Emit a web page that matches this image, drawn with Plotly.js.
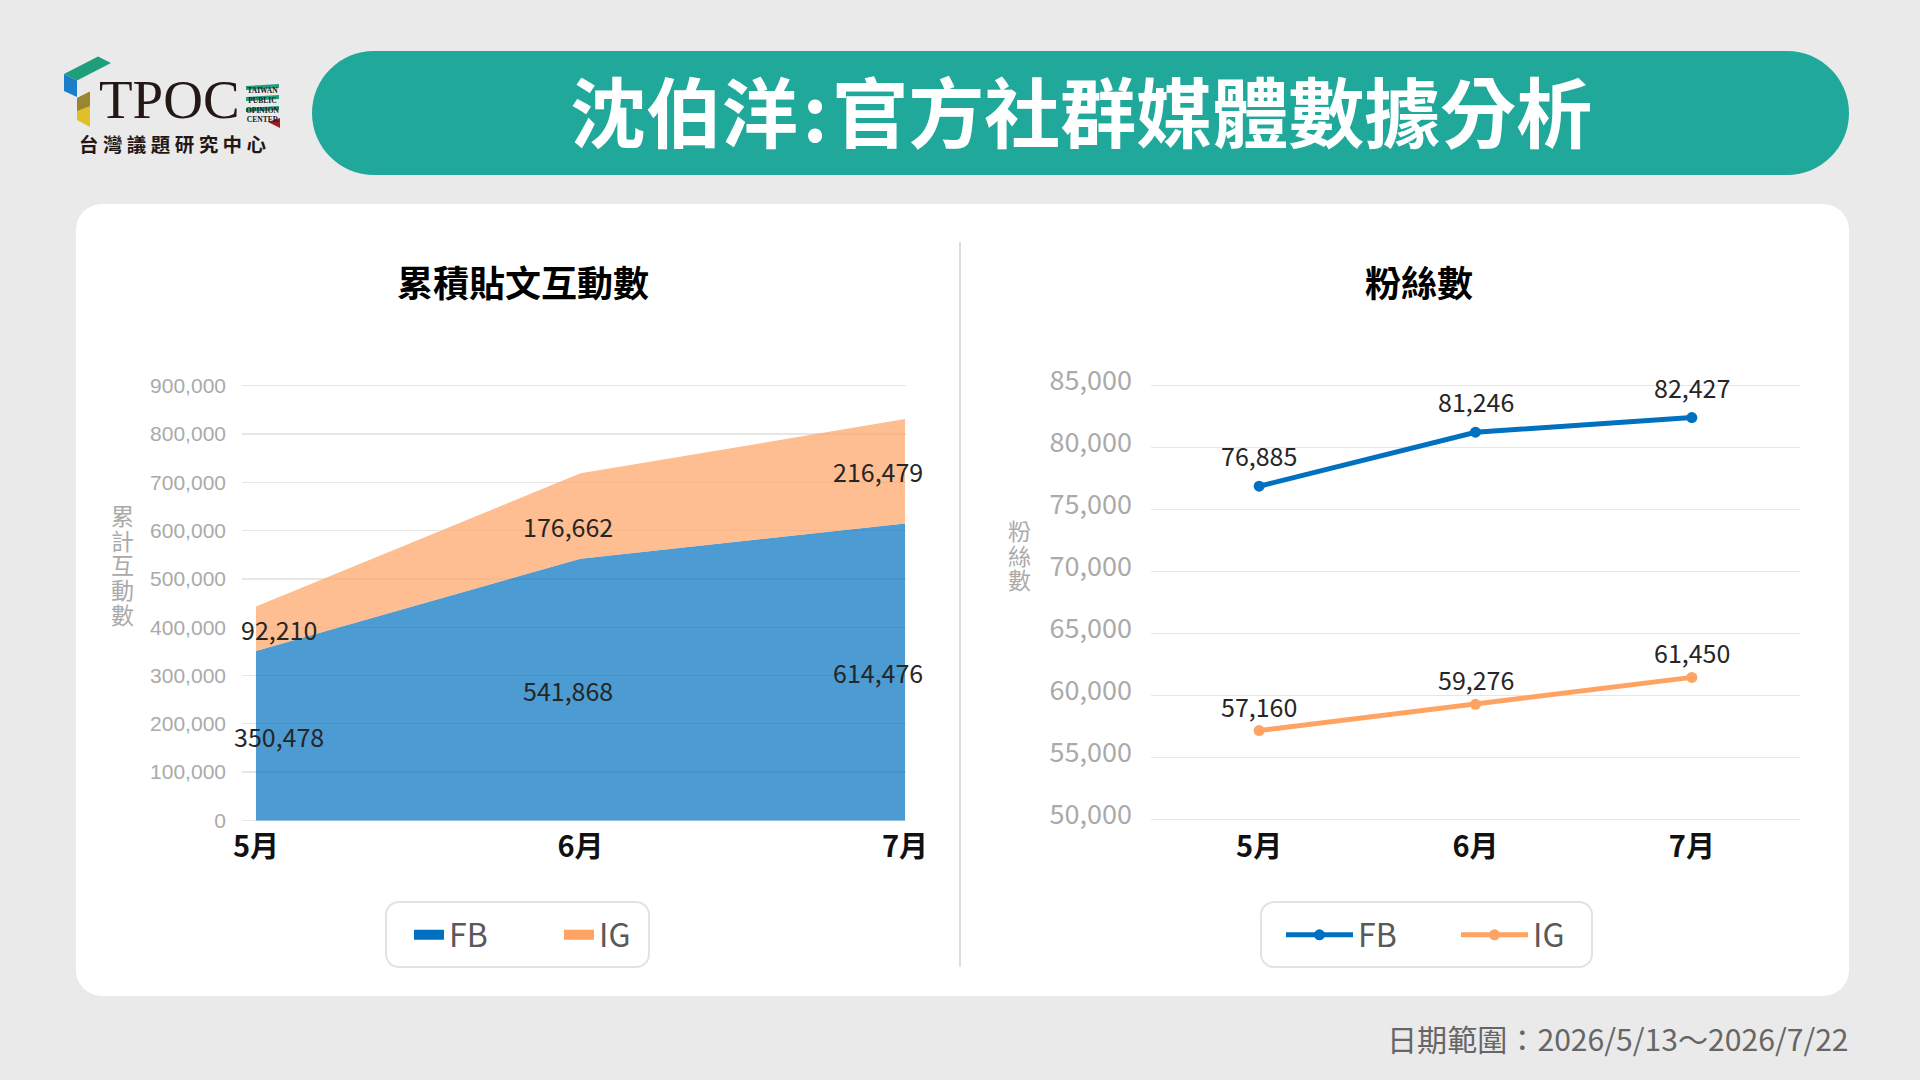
<!DOCTYPE html>
<html><head><meta charset="utf-8">
<script src="https://cdn.plot.ly/plotly-3.0.1.min.js"></script>
<style>html,body{margin:0;padding:0;background:#eaeaea;overflow:hidden}#chart{width:1920px;height:1080px}</style>
</head><body><div id="chart"></div>
<script>
// ---------- data ----------
const months = ['5月', '6月', '7月'];
const interactFB = [350478, 541868, 614476];
const interactIG = [92210, 176662, 216479];
const fansFB = [76885, 81246, 82427];
const fansIG = [57160, 59276, 61450];
const interactTicks = [0, 100000, 200000, 300000, 400000, 500000, 600000, 700000, 800000, 900000];
const fansTicks = [50000, 55000, 60000, 65000, 70000, 75000, 80000, 85000];
const seriesNames = ['FB', 'IG'];

// ---------- styles ----------
const W = 1920, H = 1080;
const CJK = '"Noto Sans CJK TC","Noto Sans CJK SC",sans-serif';
const blue = '#0070c0', orange = '#ffa362';
const blueFill = 'rgba(0,112,192,0.70)', orangeFill = 'rgba(255,163,98,0.70)';
const labelShiftX = [23, -12, -27];
const igLabelShiftY = [0, -10, 0];
const fmt = v => v.toLocaleString('en-US');

function rr(x0, y0, x1, y1, r) {
  const k = 0.4477 * r;
  return `M${x0 + r},${y0} H${x1 - r} C${x1 - k},${y0} ${x1},${y0 + k} ${x1},${y0 + r} ` +
    `V${y1 - r} C${x1},${y1 - k} ${x1 - k},${y1} ${x1 - r},${y1} H${x0 + r} ` +
    `C${x0 + k},${y1} ${x0},${y1 - k} ${x0},${y1 - r} V${y0 + r} C${x0},${y0 + k} ${x0 + k},${y0} ${x0 + r},${y0} Z`;
}
const pshape = (path, fill, line) => ({type: 'path', xref: 'x', yref: 'y', layer: 'below', path,
  fillcolor: fill, line: line || {width: 0}});

const shapes = [
  pshape(rr(312, 51, 1849, 175, 62), '#20a89b'),
  pshape(rr(76, 204, 1849, 996, 26), '#ffffff'),
  {type: 'line', xref: 'x', yref: 'y', layer: 'below', x0: 960, x1: 960, y0: 242, y1: 967, line: {color: '#dedede', width: 2}},
  pshape(rr(386, 902, 649, 967, 13), '#ffffff', {color: '#e3e3e3', width: 2}),
  pshape(rr(1261, 902, 1592, 967, 13), '#ffffff', {color: '#e3e3e3', width: 2}),
  // logo
  pshape('M64,74 L98,56.5 L111,63 L77,80.5 Z', '#1f9e7c'),
  pshape('M64,74 L77,80.5 L77,97 L64,91 Z', '#1a7fc8'),
  pshape('M77,98 L90,91.5 L90,127 L77,120 Z', '#e0bf2a'),
  pshape('M77,98 L90,91.5 L90,106 L77,111 Z', '#9a8530'),
  pshape('M246,86 L279,84 L279,88 L246,90 Z', '#1f9e7c'),
  pshape('M246,97 L279,95 L279,99 L246,101 Z', '#1f9e7c'),
  pshape('M246,108 L279,106 L279,110 L246,112 Z', '#1f9e7c'),
  pshape('M268,122 L280,118 L280,128 Z', '#a01c24'),
];

const annotations = [];
const A = o => annotations.push(Object.assign({showarrow: false, xref: 'x', yref: 'y'}, o));
// header
A({x: 1081, y: 109, text: '沈伯洋\u200a:\u200a官方社群媒體數據分析', font: {family: CJK, size: 76, weight: 700, color: '#ffffff'}});
// logo text
A({x: 169, y: 99, text: 'TPOC', font: {family: '"Liberation Serif","DejaVu Serif",serif', size: 55, color: '#231815'}});
A({x: 262.5, y: 105, text: '<b>TAIWAN<br>PUBLIC<br>OPINION<br>CENTER</b>', font: {family: '"Liberation Serif",serif', size: 7.5, color: '#231815'}});
A({x: 172, y: 143, text: '台 灣 議 題 研 究 中 心', font: {family: CJK, size: 19.5, weight: 700, color: '#231815'}});
// chart titles
A({x: 523, y: 281, text: '累積貼文互動數', font: {family: CJK, size: 36, weight: 700, color: '#000000'}});
A({x: 1419, y: 281, text: '粉絲數', font: {family: CJK, size: 36, weight: 700, color: '#000000'}});
// vertical axis titles (stacked characters)
const vStack = s => [...s].map(c => `<span style="font-size:23px">${c}</span>`).join('<br>');
A({x: 122, y: 564, text: vStack('累計互動數'), font: {family: CJK, size: 19, color: '#aaaaaa'}});
A({x: 1019, y: 554, text: vStack('粉絲數'), font: {family: CJK, size: 19, color: '#aaaaaa'}});
// footer
A({x: 1851, y: 1038, xanchor: 'right', text: '日期範圍：2026/5/13～2026/7/22', font: {family: CJK, size: 30.1, color: '#666666'}});

// data labels
const lblFont = {family: CJK, size: 25, color: '#262626'};
months.forEach((m, i) => {
  annotations.push({xref: 'x2', yref: 'y2', x: m, y: interactFB[i] / 2, text: fmt(interactFB[i]),
    showarrow: false, xshift: labelShiftX[i], font: lblFont});
  annotations.push({xref: 'x2', yref: 'y2', x: m, y: interactFB[i] + interactIG[i] / 2, text: fmt(interactIG[i]),
    showarrow: false, xshift: labelShiftX[i], yshift: igLabelShiftY[i], font: lblFont});
  annotations.push({xref: 'x3', yref: 'y3', x: m, y: fansFB[i], text: fmt(fansFB[i]),
    showarrow: false, yshift: 31, font: lblFont});
  annotations.push({xref: 'x3', yref: 'y3', x: m, y: fansIG[i], text: fmt(fansIG[i]),
    showarrow: false, yshift: 25, font: lblFont});
});

const traces = [
  {x: [null], y: [null], xaxis: 'x', yaxis: 'y', showlegend: false, hoverinfo: 'skip', mode: 'markers'},
  {x: months, y: interactFB, name: seriesNames[0], xaxis: 'x2', yaxis: 'y2', stackgroup: 'one', mode: 'none',
    fillcolor: blueFill, showlegend: false, legendgroup: 'fb'},
  {x: months, y: interactIG, name: seriesNames[1], xaxis: 'x2', yaxis: 'y2', stackgroup: 'one', mode: 'none',
    fillcolor: orangeFill, showlegend: false, legendgroup: 'ig'},
  {x: [null], y: [null], name: seriesNames[0], xaxis: 'x2', yaxis: 'y2', mode: 'lines', line: {color: blue, width: 15},
    legend: 'legend', legendgroup: 'fb'},
  {x: [null], y: [null], name: seriesNames[1], xaxis: 'x2', yaxis: 'y2', mode: 'lines', line: {color: orange, width: 15},
    legend: 'legend', legendgroup: 'ig'},
  {x: months, y: fansFB, name: seriesNames[0], xaxis: 'x3', yaxis: 'y3', mode: 'lines+markers',
    line: {color: blue, width: 5}, marker: {color: blue, size: 11}, legend: 'legend2'},
  {x: months, y: fansIG, name: seriesNames[1], xaxis: 'x3', yaxis: 'y3', mode: 'lines+markers',
    line: {color: orange, width: 5}, marker: {color: orange, size: 11}, legend: 'legend2'},
];

// plot areas: left 0 -> 820.4px, 900k -> 385.7px; right 50k -> 819.2px, 85k -> 385.7px (2px padding so edge gridlines show)
const pad = 2;
const lPx = (820.4 - 385.7) / 900000, rPx = (819.2 - 385.7) / 35000;
const layout = {
  width: W, height: H, margin: {l: 0, r: 0, t: 0, b: 0, pad: 0},
  paper_bgcolor: '#eaeaea', plot_bgcolor: 'rgba(0,0,0,0)',
  showlegend: true, hovermode: false,
  xaxis: {domain: [0, 1], range: [0, W], visible: false, fixedrange: true},
  yaxis: {domain: [0, 1], range: [H, 0], visible: false, fixedrange: true},
  xaxis2: {domain: [242 / W, 906 / W], anchor: 'y2', type: 'category', range: [-0.043, 2.003],
    showgrid: false, zeroline: false, showline: false, ticks: '', ticklabelstandoff: 5,
    tickfont: {family: CJK, size: 29, weight: 700, color: '#111111'}},
  yaxis2: {domain: [1 - (820.4 + pad) / H, 1 - (385.7 - pad) / H], anchor: 'x2',
    range: [-pad / lPx, 900000 + pad / lPx], tickvals: interactTicks, tickformat: ',d',
    showgrid: true, gridcolor: '#e6e6e6', gridwidth: 1.3, zeroline: false, showline: false, ticks: '',
    tickfont: {family: '"Liberation Sans",Arial,sans-serif', size: 21, color: '#aaaaaa'}, ticklabelstandoff: 15},
  xaxis3: {domain: [1151 / W, 1800 / W], anchor: 'y3', type: 'category', range: [-0.5, 2.5],
    showgrid: false, zeroline: false, showline: false, ticks: '', ticklabelstandoff: 6,
    tickfont: {family: CJK, size: 29, weight: 700, color: '#111111'}},
  yaxis3: {domain: [1 - (819.2 + pad) / H, 1 - (385.7 - pad) / H], anchor: 'x3',
    range: [50000 - pad / rPx, 85000 + pad / rPx], tickvals: fansTicks, tickformat: ',d',
    showgrid: true, gridcolor: '#e6e6e6', gridwidth: 1.3, zeroline: false, showline: false, ticks: '',
    tickfont: {family: CJK, size: 27, color: '#aaaaaa'}, ticklabelstandoff: 18, ticklabelshift: -5},
  legend: {orientation: 'h', x: 409 / W, y: 1 - 935 / H, xanchor: 'left', yanchor: 'middle',
    bgcolor: 'rgba(0,0,0,0)', borderwidth: 0, itemwidth: 30, entrywidth: 105,
    font: {family: CJK, size: 32, color: '#595959'}, itemclick: false, itemdoubleclick: false},
  legend2: {orientation: 'h', x: 1281 / W, y: 1 - 935 / H, xanchor: 'left', yanchor: 'middle',
    bgcolor: 'rgba(0,0,0,0)', borderwidth: 0, itemwidth: 67, entrywidth: 93,
    font: {family: CJK, size: 32, color: '#595959'}, itemclick: false, itemdoubleclick: false},
  shapes, annotations,
};
Plotly.newPlot('chart', traces, layout, {displayModeBar: false, staticPlot: true});
</script></body></html>
